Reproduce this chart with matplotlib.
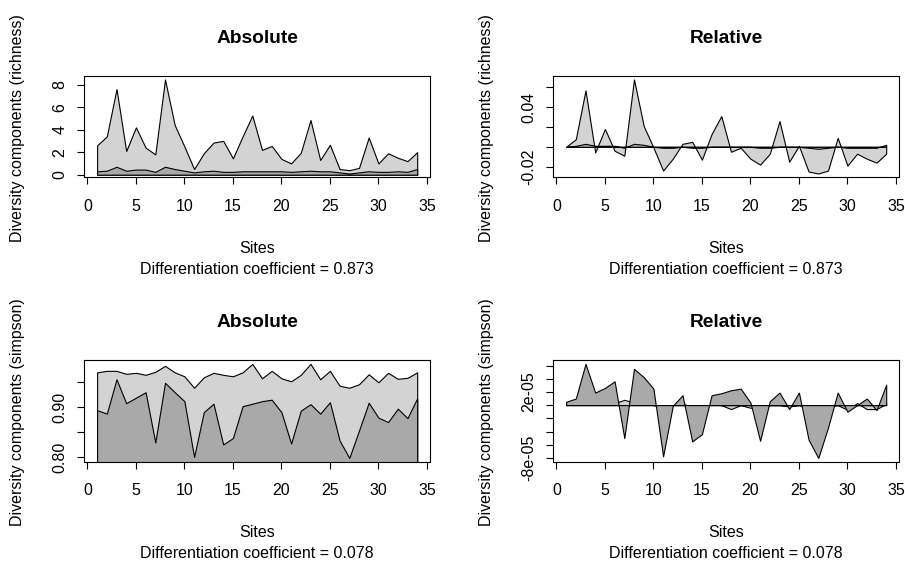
import matplotlib

matplotlib.use("Agg")

import matplotlib.pyplot as plt

SITES = list(range(1, 35))

# richness, absolute (light = upper curve, dark = lower band)
RICH_ABS_UPPER = [2.6, 3.4, 7.6, 2.1, 4.2, 2.4, 1.8, 8.45, 4.4, 2.5, 0.5, 1.9, 2.85, 3.0, 1.45, 3.4, 5.25,
                  2.2, 2.55, 1.4, 1.0, 1.95, 4.85, 1.3, 2.65, 0.5, 0.4, 0.6, 3.3, 1.0, 1.9, 1.5, 1.2, 2.0]
RICH_ABS_LOWER = [0.3, 0.35, 0.7, 0.35, 0.45, 0.45, 0.25, 0.7, 0.5, 0.35, 0.2, 0.3, 0.35, 0.25, 0.25, 0.3, 0.3,
                  0.3, 0.3, 0.3, 0.25, 0.3, 0.35, 0.3, 0.3, 0.2, 0.1, 0.2, 0.3, 0.25, 0.25, 0.3, 0.25, 0.5]

# richness, relative
RICH_REL_UPPER = [0.0, 0.0077, 0.057, -0.0057, 0.018, -0.004, -0.009, 0.068, 0.021, -0.0007, -0.024, -0.012,
                  0.003, 0.005, -0.013, 0.013, 0.031, -0.005, -0.001, -0.012, -0.018, -0.007, 0.026, -0.015,
                  0.001, -0.025, -0.027, -0.024, 0.009, -0.019, -0.007, -0.012, -0.016, -0.007]
RICH_REL_LOWER = [0.0, 0.001, 0.003, 0.001, 0.001, 0.001, -0.001, 0.003, 0.002, 0.0, -0.001, -0.001, 0.0,
                  -0.001, -0.001, 0.0, 0.0, 0.0, 0.0, 0.0, -0.001, -0.001, 0.0, 0.0, 0.0, -0.001, -0.002,
                  -0.001, 0.0, -0.001, -0.001, -0.001, -0.001, 0.002]

# simpson, absolute
SIMP_ABS_UPPER = [0.970, 0.973, 0.973, 0.967, 0.969, 0.965, 0.971, 0.983, 0.970, 0.962, 0.939, 0.960, 0.969,
                  0.965, 0.962, 0.970, 0.987, 0.958, 0.973, 0.958, 0.952, 0.965, 0.987, 0.956, 0.973, 0.943,
                  0.939, 0.946, 0.966, 0.950, 0.969, 0.957, 0.959, 0.970]
SIMP_ABS_LOWER = [0.894, 0.887, 0.956, 0.908, 0.919, 0.930, 0.829, 0.949, 0.930, 0.912, 0.800, 0.890, 0.907,
                  0.825, 0.838, 0.902, 0.907, 0.912, 0.915, 0.890, 0.827, 0.893, 0.906, 0.887, 0.910, 0.833,
                  0.798, 0.853, 0.909, 0.879, 0.870, 0.897, 0.878, 0.918]

# simpson, relative
SIMP_REL_UPPER = [4e-06, 2e-06, 3e-06, 2e-06, 2e-06, 3e-06, 8e-06, 4e-06, 2e-06, 0.0, -3e-06, 0.0, 2e-06,
                  -2e-06, -2e-06, 1e-06, 0.0, -6e-06, 0.0, -4e-06, -2e-06, 0.0, 0.0, -2e-06, 0.0, -3e-06,
                  -4e-06, -2e-06, 0.0, -7e-06, 3e-06, -6e-06, -6e-06, 2e-06]
SIMP_REL_LOWER = [5e-06, 1e-05, 6.25e-05, 1.9e-05, 2.6e-05, 3.6e-05, -5e-05, 5.5e-05, 4.25e-05, 2.5e-05,
                  -7.75e-05, -1e-06, 1.5e-05, -5.5e-05, -4.4e-05, 1.5e-05, 1.8e-05, 2.25e-05, 2.5e-05, 4e-06,
                  -5.4e-05, 6e-06, 1.9e-05, -6e-06, 1.9e-05, -5.25e-05, -8e-05, -3.4e-05, 1.9e-05, -1e-05,
                  0.0, 1e-05, -7.5e-06, 3.1e-05]

X_TICKS = [0, 5, 10, 15, 20, 25, 30, 35]
RICH_ABS_TICKS = [0, 2, 4, 6, 8]
RICH_ABS_LABELS = ["0", "2", "4", "6", "8"]
RICH_REL_TICKS = [-0.02, 0.0, 0.02, 0.04, 0.06]
RICH_REL_LABELS = ["-0.02", "", "", "0.04", ""]
SIMP_ABS_TICKS = [0.80, 0.85, 0.90, 0.95]
SIMP_ABS_LABELS = ["0.80", "", "0.90", ""]
SIMP_REL_TICKS = [-8e-05, -6e-05, -4e-05, -2e-05, 0.0, 2e-05, 4e-05, 6e-05]
SIMP_REL_LABELS = ["-8e-05", "", "", "", "", "2e-05", "", ""]

COEF_RICHNESS = 0.873
COEF_SIMPSON = 0.078

LIGHT = "#D3D3D3"
DARK = "#A9A9A9"
LW = 0.8
FS = 11.5

AX_W = 345.7 / 905
AX_H = 101.6 / 564
LEFTS = [84.3 / 905, 553.3 / 905]
BOTTOMS = [1 - 177.3 / 564, 1 - 461.7 / 564]


def r_range(values, frac=0.04):
    lo, hi = min(values), max(values)
    pad = (hi - lo) * frac
    return lo - pad, hi + pad


def draw_panel(fig, pos, upper, lower, yticks, ylabels, title, ylabel, coef):
    ax = fig.add_axes(pos)
    ax.fill_between(SITES, 0, upper, facecolor=LIGHT, edgecolor="black", linewidth=LW)
    ax.fill_between(SITES, 0, lower, facecolor=DARK, edgecolor="black", linewidth=LW)

    ax.set_xlim(*r_range(SITES))
    ax.set_ylim(*r_range(list(upper) + list(lower)))
    ax.set_xticks(X_TICKS)
    ax.set_xticklabels([str(t) for t in X_TICKS], fontsize=FS)
    ax.set_yticks(yticks)
    ax.set_yticklabels(ylabels, rotation=90, va="center", fontsize=FS)
    ax.tick_params(direction="out", length=5, width=LW)
    ax.tick_params(axis="x", pad=10.5)
    ax.tick_params(axis="y", pad=7)
    for spine in ax.spines.values():
        spine.set_linewidth(LW)

    ax.annotate(title, (0.5, 1), xycoords="axes fraction", xytext=(0, 26.8),
                textcoords="offset points", ha="center", va="center",
                fontsize=FS * 1.2, fontweight="bold")
    ax.annotate("Sites", (0.5, 0), xycoords="axes fraction", xytext=(0, -51.0),
                textcoords="offset points", ha="center", va="center", fontsize=FS)
    ax.annotate(f"Differentiation coefficient = {coef:.3f}", (0.5, 0), xycoords="axes fraction",
                xytext=(0, -66.2), textcoords="offset points", ha="center", va="center", fontsize=FS)
    ax.annotate(ylabel, (0, 0.5), xycoords="axes fraction", xytext=(-47.8, -1.0),
                textcoords="offset points", ha="center", va="center", rotation=90, fontsize=FS)
    return ax


def main() -> None:
    plt.rcParams.update({"font.family": ["Liberation Sans", "DejaVu Sans"],
                         "axes.unicode_minus": False})
    fig = plt.figure(figsize=(9.05, 5.64), dpi=100)

    draw_panel(fig, [LEFTS[0], BOTTOMS[0], AX_W, AX_H], RICH_ABS_UPPER, RICH_ABS_LOWER,
               RICH_ABS_TICKS, RICH_ABS_LABELS, "Absolute",
               "Diversity components (richness)", COEF_RICHNESS)
    draw_panel(fig, [LEFTS[1], BOTTOMS[0], AX_W, AX_H], RICH_REL_UPPER, RICH_REL_LOWER,
               RICH_REL_TICKS, RICH_REL_LABELS, "Relative",
               "Diversity components (richness)", COEF_RICHNESS)
    draw_panel(fig, [LEFTS[0], BOTTOMS[1], AX_W, AX_H], SIMP_ABS_UPPER, SIMP_ABS_LOWER,
               SIMP_ABS_TICKS, SIMP_ABS_LABELS, "Absolute",
               "Diversity components (simpson)", COEF_SIMPSON)
    draw_panel(fig, [LEFTS[1], BOTTOMS[1], AX_W, AX_H], SIMP_REL_UPPER, SIMP_REL_LOWER,
               SIMP_REL_TICKS, SIMP_REL_LABELS, "Relative",
               "Diversity components (simpson)", COEF_SIMPSON)

    fig.savefig("out.png", dpi=100)
    plt.close(fig)


if __name__ == "__main__":
    main()
